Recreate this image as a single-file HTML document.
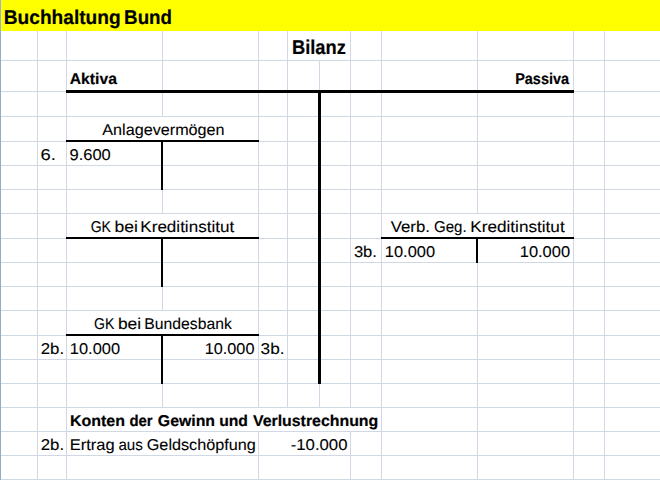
<!DOCTYPE html>
<html><head><meta charset="utf-8"><title>Buchhaltung Bund</title>
<style>
html,body{margin:0;padding:0;background:#fff;}
body{width:660px;height:480px;position:relative;overflow:hidden;font-family:"Liberation Sans",sans-serif;color:#000;}
i{position:absolute;display:block;}
span{position:absolute;left:0;top:0;display:block;line-height:1;white-space:nowrap;transform-origin:0 0;text-rendering:geometricPrecision;-webkit-text-stroke:.1px #000;}
span.b{font-weight:700;-webkit-text-stroke:.2px #000;}
</style></head><body>
<i style="left:0px;top:0px;width:660px;height:31px;background:#ffff00"></i>
<i style="left:0px;top:60px;width:660px;height:1px;background:#d0d7e5"></i>
<i style="left:0px;top:91px;width:660px;height:1px;background:#d0d7e5"></i>
<i style="left:0px;top:116px;width:660px;height:1px;background:#d0d7e5"></i>
<i style="left:0px;top:141px;width:660px;height:1px;background:#d0d7e5"></i>
<i style="left:0px;top:165px;width:660px;height:1px;background:#d0d7e5"></i>
<i style="left:0px;top:189px;width:660px;height:1px;background:#d0d7e5"></i>
<i style="left:0px;top:213px;width:660px;height:1px;background:#d0d7e5"></i>
<i style="left:0px;top:238px;width:660px;height:1px;background:#d0d7e5"></i>
<i style="left:0px;top:262px;width:660px;height:1px;background:#d0d7e5"></i>
<i style="left:0px;top:286px;width:660px;height:1px;background:#d0d7e5"></i>
<i style="left:0px;top:310px;width:660px;height:1px;background:#d0d7e5"></i>
<i style="left:0px;top:335px;width:660px;height:1px;background:#d0d7e5"></i>
<i style="left:0px;top:359px;width:660px;height:1px;background:#d0d7e5"></i>
<i style="left:0px;top:383px;width:660px;height:1px;background:#d0d7e5"></i>
<i style="left:0px;top:407px;width:660px;height:1px;background:#d0d7e5"></i>
<i style="left:0px;top:431px;width:660px;height:1px;background:#d0d7e5"></i>
<i style="left:0px;top:455px;width:660px;height:1px;background:#d0d7e5"></i>
<i style="left:0px;top:479px;width:660px;height:1px;background:#d0d7e5"></i>
<i style="left:37px;top:31px;width:1px;height:449px;background:#d0d7e5"></i>
<i style="left:66px;top:31px;width:1px;height:449px;background:#d0d7e5"></i>
<i style="left:162px;top:31px;width:1px;height:86px;background:#d0d7e5"></i>
<i style="left:162px;top:142px;width:1px;height:72px;background:#d0d7e5"></i>
<i style="left:162px;top:239px;width:1px;height:72px;background:#d0d7e5"></i>
<i style="left:162px;top:336px;width:1px;height:72px;background:#d0d7e5"></i>
<i style="left:258px;top:31px;width:1px;height:377px;background:#d0d7e5"></i>
<i style="left:258px;top:432px;width:1px;height:48px;background:#d0d7e5"></i>
<i style="left:287px;top:31px;width:1px;height:377px;background:#d0d7e5"></i>
<i style="left:319px;top:61px;width:1px;height:347px;background:#d0d7e5"></i>
<i style="left:350px;top:31px;width:1px;height:377px;background:#d0d7e5"></i>
<i style="left:350px;top:432px;width:1px;height:48px;background:#d0d7e5"></i>
<i style="left:381px;top:31px;width:1px;height:449px;background:#d0d7e5"></i>
<i style="left:477px;top:31px;width:1px;height:183px;background:#d0d7e5"></i>
<i style="left:477px;top:239px;width:1px;height:241px;background:#d0d7e5"></i>
<i style="left:573px;top:31px;width:1px;height:449px;background:#d0d7e5"></i>
<i style="left:604px;top:31px;width:1px;height:449px;background:#d0d7e5"></i>
<i style="left:0px;top:0px;width:1px;height:31px;background:#98aee4"></i>
<i style="left:0px;top:31px;width:1px;height:449px;background:#91abc8"></i>
<i style="left:66px;top:90px;width:508px;height:3px;background:#000"></i>
<i style="left:318px;top:90px;width:3px;height:294px;background:#000"></i>
<i style="left:66px;top:140px;width:193px;height:2px;background:#000"></i>
<i style="left:66px;top:237px;width:193px;height:2px;background:#000"></i>
<i style="left:381px;top:237px;width:193px;height:2px;background:#000"></i>
<i style="left:66px;top:334px;width:193px;height:2px;background:#000"></i>
<i style="left:161px;top:140px;width:2px;height:50px;background:#000"></i>
<i style="left:161px;top:237px;width:2px;height:50px;background:#000"></i>
<i style="left:476px;top:237px;width:2px;height:26px;background:#000"></i>
<i style="left:161px;top:334px;width:2px;height:50px;background:#000"></i>
<span id="t1a" class="b" style="font-size:19.9px;transform:translate(3.82px,9px) scaleX(0.9609)">Buchhaltung</span>
<span id="t1b" class="b" style="font-size:19.9px;transform:translate(124.11px,9px) scaleX(0.9422)">Bund</span>
<span id="t2" class="b" style="font-size:19.9px;transform:translate(291.95px,39px) scaleX(0.9191)">Bilanz</span>
<span id="t3" class="b" style="font-size:15.6px;transform:translate(69.76px,72px) scaleX(1.0062)">Aktiva</span>
<span id="t4" class="b" style="font-size:15.6px;transform:translate(515.14px,72px) scaleX(0.9278)">Passiva</span>
<span id="t5" style="font-size:15.7px;transform:translate(102.28px,123px) scaleX(1.0314)">Anlagevermögen</span>
<span id="t6" style="font-size:15.7px;transform:translate(40.45px,148px) scaleX(1.1712)">6.</span>
<span id="t7" style="font-size:15.7px;transform:translate(69.53px,148px) scaleX(1.0509)">9.600</span>
<span id="t8a" style="font-size:15.7px;transform:translate(90.66px,220px) scaleX(0.8957)">GK</span>
<span id="t8b" style="font-size:15.7px;transform:translate(114.51px,220px) scaleX(1.1156)">bei</span>
<span id="t8c" style="font-size:15.7px;transform:translate(140.32px,220px) scaleX(1.0872)">Kreditinstitut</span>
<span id="t9a" style="font-size:15.7px;transform:translate(390.74px,220px) scaleX(1.0714)">Verb.</span>
<span id="t9b" style="font-size:15.7px;transform:translate(434.02px,220px) scaleX(0.9606)">Geg.</span>
<span id="t9c" style="font-size:15.7px;transform:translate(470.32px,220px) scaleX(1.0928)">Kreditinstitut</span>
<span id="t10" style="font-size:15.7px;transform:translate(353.90px,245px) scaleX(1.0566)">3b.</span>
<span id="t11" style="font-size:15.7px;transform:translate(384.85px,245px) scaleX(1.0459)">10.000</span>
<span id="t12" style="font-size:15.7px;transform:translate(519.74px,245px) scaleX(1.0491)">10.000</span>
<span id="t13a" style="font-size:15.7px;transform:translate(93.97px,317px) scaleX(0.8978)">GK</span>
<span id="t13b" style="font-size:15.7px;transform:translate(117.88px,317px) scaleX(1.1080)">bei</span>
<span id="t13c" style="font-size:15.7px;transform:translate(144.34px,317px) scaleX(1.0024)">Bundesbank</span>
<span id="t14" style="font-size:15.7px;transform:translate(40.78px,342px) scaleX(1.0702)">2b.</span>
<span id="t15" style="font-size:15.7px;transform:translate(69.87px,342px) scaleX(1.0459)">10.000</span>
<span id="t16" style="font-size:15.7px;transform:translate(204.73px,342px) scaleX(1.0356)">10.000</span>
<span id="t17" style="font-size:15.7px;transform:translate(260.61px,342px) scaleX(1.0977)">3b.</span>
<span id="t18a" class="b" style="font-size:15.6px;transform:translate(69.94px,414px) scaleX(1.0256)">Konten</span>
<span id="t18b" class="b" style="font-size:15.6px;transform:translate(129.46px,414px) scaleX(0.9555)">der</span>
<span id="t18c" class="b" style="font-size:15.6px;transform:translate(157.81px,414px) scaleX(1.0162)">Gewinn</span>
<span id="t18d" class="b" style="font-size:15.6px;transform:translate(219.16px,414px) scaleX(1.0073)">und</span>
<span id="t18e" class="b" style="font-size:15.6px;transform:translate(252.94px,414px) scaleX(1.0183)">Verlustrechnung</span>
<span id="t19" style="font-size:15.7px;transform:translate(40.78px,438px) scaleX(1.0702)">2b.</span>
<span id="t20a" style="font-size:15.7px;transform:translate(69.83px,438px) scaleX(1.0493)">Ertrag</span>
<span id="t20b" style="font-size:15.7px;transform:translate(118.40px,438px) scaleX(0.9647)">aus</span>
<span id="t20c" style="font-size:15.7px;transform:translate(146.77px,438px) scaleX(1.0330)">Geldschöpfung</span>
<span id="t21" style="font-size:15.7px;transform:translate(290.71px,438px) scaleX(1.0669)">-10.000</span>
</body></html>
